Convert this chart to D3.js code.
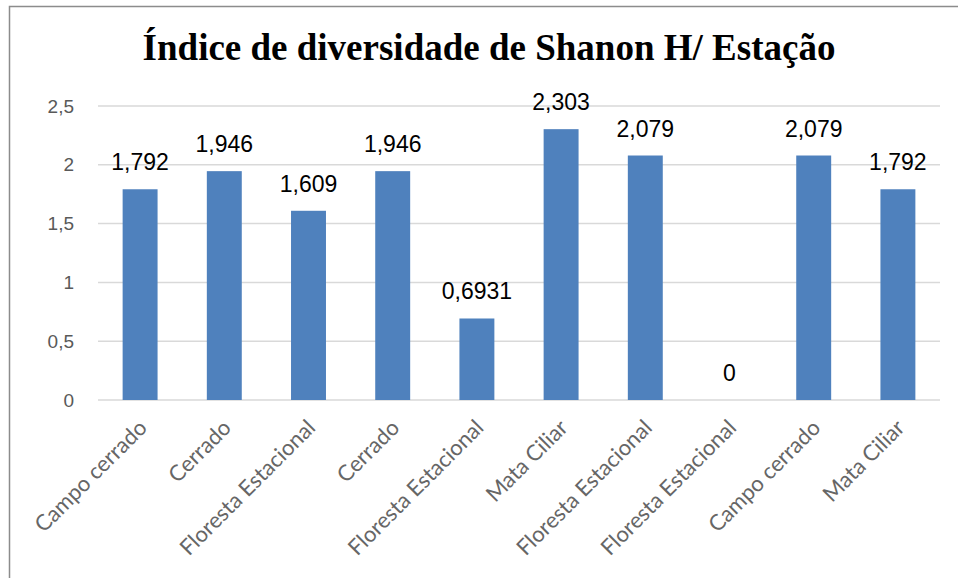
<!DOCTYPE html>
<html lang="pt">
<head>
  <meta charset="UTF-8">
  <title>Índice de diversidade de Shanon H/ Estação</title>
  <script src="https://d3js.org/d3.v7.min.js"></script>
  <style>
    body {
      margin: 0;
      background-color: #ffffff;
    }
    svg {
      display: block;
    }
  </style>
</head>
<body>
  <div id="chart"></div>

  <script>
    // Dados do gráfico
    const categories = [
      'Campo cerrado', 'Cerrado', 'Floresta Estacional', 'Cerrado', 'Floresta Estacional',
      'Mata Ciliar', 'Floresta Estacional', 'Floresta Estacional', 'Campo cerrado', 'Mata Ciliar'
    ];
    const values = [1.792, 1.946, 1.609, 1.946, 0.6931, 2.303, 2.079, 0, 2.079, 1.792];
    const valueLabels = ['1,792', '1,946', '1,609', '1,946', '0,6931', '2,303', '2,079', '0', '2,079', '1,792'];
    const yTicks = [0, 0.5, 1, 1.5, 2, 2.5];
    const yTickLabels = ['0', '0,5', '1', '1,5', '2', '2,5'];

    const width = 958;
    const height = 578;
    const margin = { top: 106, right: 18, bottom: 178, left: 98 };
    const innerW = width - margin.left - margin.right;
    const innerH = height - margin.top - margin.bottom;

    const data = categories.map((c, i) => ({ i, cat: c, value: values[i], label: valueLabels[i] }));

    const svg = d3.select('#chart')
      .append('svg')
      .attr('width', width)
      .attr('height', height);

    // Moldura externa
    svg.append('rect')
      .attr('x', 9.5)
      .attr('y', 6.5)
      .attr('width', 1000)
      .attr('height', 1000)
      .attr('fill', 'none')
      .attr('stroke', '#8c8c8c')
      .attr('stroke-width', 1.5);

    // Título
    svg.append('text')
      .attr('x', 489)
      .attr('y', 60)
      .attr('text-anchor', 'middle')
      .style('font-family', '"Liberation Serif", "Times New Roman", serif')
      .style('font-weight', 'bold')
      .style('font-size', '37px')
      .style('fill', '#000')
      .text('Índice de diversidade de Shanon H/ Estação');

    const g = svg.append('g')
      .attr('transform', `translate(${margin.left}, ${margin.top})`);

    const x = d3.scaleBand()
      .domain(d3.range(categories.length))
      .range([0, innerW])
      .paddingInner(0.585)
      .paddingOuter(0.2925);

    const y = d3.scaleLinear()
      .domain([0, 2.5])
      .range([innerH, 0]);

    // Linhas de grade
    g.selectAll('.grid')
      .data(yTicks)
      .enter()
      .append('line')
      .attr('x1', 0)
      .attr('x2', innerW)
      .attr('y1', d => y(d))
      .attr('y2', d => y(d))
      .attr('stroke', '#d9d9d9')
      .attr('stroke-width', 1.5);

    // Eixo Y
    const yAxis = d3.axisLeft(y)
      .tickValues(yTicks)
      .tickSize(0)
      .tickPadding(24)
      .tickFormat((d, i) => yTickLabels[i]);

    g.append('g')
      .call(yAxis)
      .call(sel => sel.select('.domain').remove())
      .selectAll('text')
      .style('font-family', '"Liberation Sans", Arial, sans-serif')
      .style('font-size', '19px')
      .style('fill', '#595959');

    // Barras
    g.selectAll('.bar')
      .data(data)
      .enter()
      .append('rect')
      .attr('class', 'bar')
      .attr('x', d => x(d.i))
      .attr('y', d => y(d.value))
      .attr('width', x.bandwidth())
      .attr('height', d => innerH - y(d.value))
      .attr('fill', '#4f81bd');

    // Rótulos de dados
    g.selectAll('.value-label')
      .data(data)
      .enter()
      .append('text')
      .attr('x', d => x(d.i) + x.bandwidth() / 2)
      .attr('y', d => y(d.value) - 19)
      .attr('text-anchor', 'middle')
      .style('font-family', '"Liberation Sans", Arial, sans-serif')
      .style('font-size', '23px')
      .style('fill', '#000')
      .text(d => d.label);

    // Eixo X com rótulos inclinados
    const xAxis = d3.axisBottom(x)
      .tickSize(0)
      .tickFormat(i => categories[i]);

    g.append('g')
      .attr('transform', `translate(0, ${innerH})`)
      .call(xAxis)
      .call(sel => sel.select('.domain').remove())
      .selectAll('text')
      .attr('text-anchor', 'end')
      .attr('dy', 0)
      .attr('transform', 'translate(6, 27) rotate(-45)')
      .style('font-family', 'Lato, "Open Sans", sans-serif')
      .style('font-size', '22px')
      .style('fill', '#666666');
  </script>
</body>
</html>
